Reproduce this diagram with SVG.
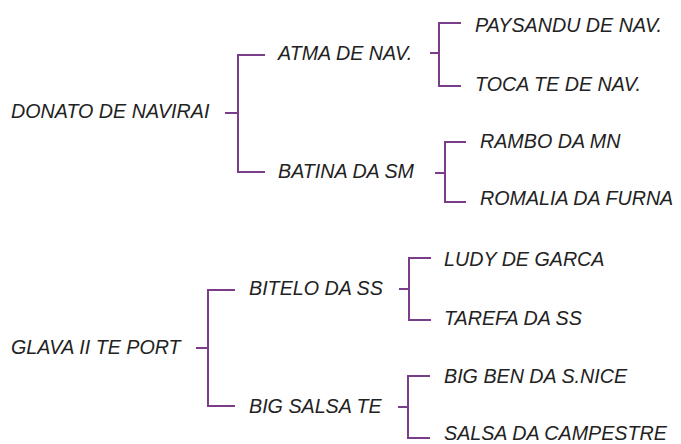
<svg xmlns="http://www.w3.org/2000/svg" width="681" height="444" viewBox="0 0 681 444">
<style>
text{font-family:"Liberation Sans",Arial,sans-serif;font-style:italic;font-size:19.7px;fill:#222}
.c{fill:none;stroke:#7a3d8a;stroke-width:2}
</style>
<rect width="681" height="444" fill="#fff"/>
<g id="connectors">
<path class="c" d="M225 113H238M265 55H238V172H265"/>
<path class="c" d="M430 53H439M461 23H439V86H461"/>
<path class="c" d="M435 173H445M466 142H445V202H466"/>
<path class="c" d="M196 348H208M235 290H208V406H235"/>
<path class="c" d="M399 289H409M431 258H409V320H431"/>
<path class="c" d="M398 407H408M430 376H408V438H430"/>
</g>
<g id="n1"><text x="11" y="118">DONATO DE NAVIRAI</text></g>
<g id="n2"><text x="278" y="60">ATMA DE NAV.</text></g>
<g id="n3"><text x="278" y="178">BATINA DA SM</text></g>
<g id="n4"><text x="475" y="32">PAYSANDU DE NAV.</text></g>
<g id="n5"><text x="475" y="91">TOCA TE DE NAV.</text></g>
<g id="n6"><text x="480" y="148">RAMBO DA MN</text></g>
<g id="n7"><text x="480" y="205">ROMALIA DA FURNA</text></g>
<g id="n8"><text x="11" y="354">GLAVA II TE PORT</text></g>
<g id="n9"><text x="249" y="295">BITELO DA SS</text></g>
<g id="n10"><text x="249" y="413">BIG SALSA TE</text></g>
<g id="n11"><text x="444" y="266">LUDY DE GARCA</text></g>
<g id="n12"><text x="444" y="325">TAREFA DA SS</text></g>
<g id="n13"><text x="444" y="383">BIG BEN DA S.NICE</text></g>
<g id="n14"><text x="444" y="440">SALSA DA CAMPESTRE</text></g>
</svg>
